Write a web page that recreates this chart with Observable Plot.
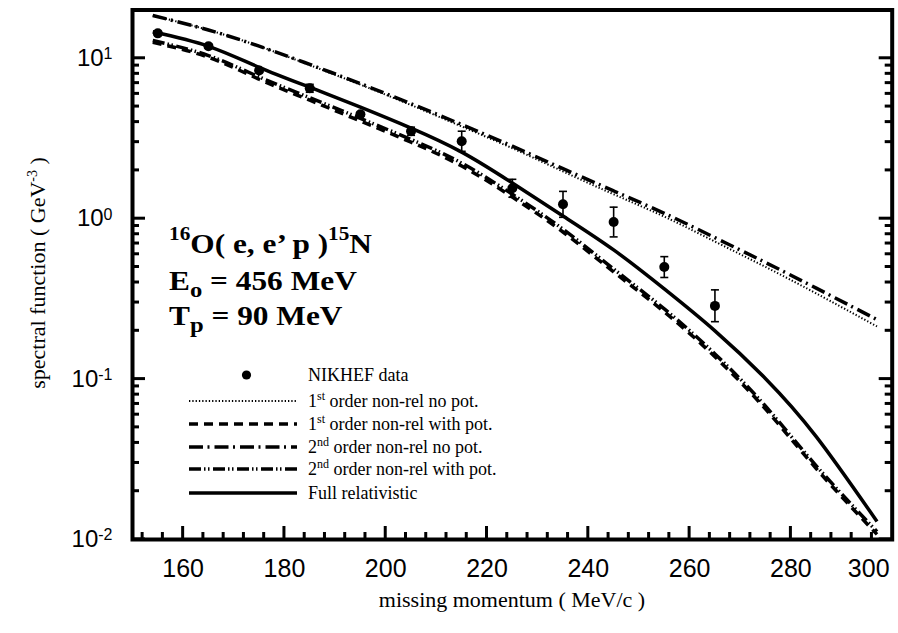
<!DOCTYPE html>
<html><head><meta charset="utf-8">
<script src="https://cdn.jsdelivr.net/npm/d3@7"></script>
<script src="https://cdn.jsdelivr.net/npm/@observablehq/plot@0.6"></script>
<style>
body{margin:0;background:#fff;}
#wrap{position:relative;width:898px;height:633px;overflow:hidden;background:#fff;}
#wrap svg{position:absolute;left:0;top:0;}
#ov text{font-family:"Liberation Serif","Times New Roman",serif;}
</style></head><body><div id="wrap"></div>
<script>
// ---- data ----
const momentum = [154,165,175,185,195,205,215,225,235,245,255,265,275,285,297];
const firstNoPot   = [18.5,15.0,11.9,9.07,6.85,5.11,3.76,2.75,1.97,1.42,1.03,0.72,0.50,0.342,0.213];
const firstWithPot = [12.58,10.14,7.40,5.48,4.06,3.00,2.13,1.365,0.826,0.466,0.2626,0.1378,0.0650,0.0277,0.01076];
const secondNoPot  = [18.5,15.0,11.9,9.16,6.95,5.21,3.86,2.83,2.05,1.49,1.08,0.762,0.533,0.369,0.235];
const secondWithPot= [12.9,10.4,7.65,5.68,4.22,3.12,2.22,1.42,0.86,0.486,0.274,0.1435,0.0677,0.0288,0.0112];
const fullRel      = [14.62,11.88,8.79,6.60,4.96,3.67,2.60,1.668,1.039,0.639,0.365,0.200,0.1006,0.0438,0.01296];

const dataMomentum = [155,165,175,185,195,205,215,225,235,245,255,265];
const dataValue    = [14.3,11.9,8.4,6.5,4.48,3.51,3.04,1.55,1.23,0.954,0.50,0.286];
const dataLow      = [13.9,11.55,8.15,6.14,4.35,3.31,2.63,1.36,1.02,0.77,0.43,0.228];
const dataHigh     = [14.7,12.25,8.65,6.88,4.61,3.72,3.51,1.76,1.48,1.18,0.58,0.36];

const xLabelTicks = [160,180,200,220,240,260,280];
const xEdgeLabel  = [300];
const xMajorTicks = [160,180,200,220,240,260,280];
const xMinorTicks = [152,156,164,168,172,176,184,188,192,196,204,208,212,216,224,228,232,236,244,248,252,256,264,268,272,276,284,288,292,296];
const yMajorTicks = [0.01,0.1,1,10];
const yMinorTicks = [0.02,0.03,0.04,0.05,0.06,0.07,0.08,0.09,0.2,0.3,0.4,0.5,0.6,0.7,0.8,0.9,2,3,4,5,6,7,8,9];

const legendNames = ["NIKHEF data","order non-rel no pot.","order non-rel with pot.","order non-rel no pot.","order non-rel with pot.","Full relativistic"];
const legendOrd = ["","1","1","2","2",""];
const legendSup = ["","st","st","nd","nd",""];

// ---- styles ----
const sty = {
  dotted:    {strokeWidth:2,   strokeDasharray:"1.3,2"},
  dashed:    {strokeWidth:3.5, strokeDasharray:"9,6"},
  dashdot:   {strokeWidth:3.5, strokeDasharray:"14,4.5,2,5"},
  dashdotdot:{strokeWidth:3.5, strokeDasharray:"12,3,1.5,2.5,1.5,3.5"},
  solid:     {strokeWidth:3.5, strokeDasharray:null}
};
const series = vals => momentum.map((m,i)=>({m, v: vals[i]}));
const points = dataMomentum.map((m,i)=>({m, v:dataValue[i], lo:dataLow[i], hi:dataHigh[i]}));
const capSymbol = {draw(ctx,size){const w=Math.sqrt(size/Math.PI); ctx.moveTo(-w,0); ctx.lineTo(w,0);}};

const lineOpts = (s)=>({x:"m", y:"v", stroke:"black", curve:"natural", strokeWidth:s.strokeWidth, strokeDasharray:s.strokeDasharray, strokeLinecap:"butt"});

const W=898, H=633;
const mL=132, mR=6.3, mT=9.5, mB=94;

const chart = Plot.plot({
  width: W, height: H,
  marginLeft: mL, marginRight: mR, marginTop: mT, marginBottom: mB,
  style: {fontFamily: "'Liberation Sans', Arial, sans-serif", color:"black", background:"white"},
  x: {domain:[150,300], label:null},
  y: {type:"log", domain:[0.01,20], label:null},
  marks: [
    Plot.axisX({anchor:"bottom", ticks:xLabelTicks, tickSize:0, tickPadding:20, fontSize:25}),
    Plot.axisX({anchor:"bottom", ticks:xEdgeLabel, tickSize:0, tickPadding:20, fontSize:25, dx:-23.5}),
    Plot.axisY({anchor:"left", ticks:yMajorTicks, tickSize:0, tickPadding:20, fontSize:24,
                tickFormat:d=>"10^"+Math.round(Math.log10(d))}),
    Plot.line(series(firstNoPot), lineOpts(sty.dotted)),
    Plot.line(series(secondNoPot), lineOpts(sty.dashdot)),
    Plot.line(series(firstWithPot), lineOpts(sty.dashed)),
    Plot.line(series(secondWithPot), lineOpts(sty.dashdotdot)),
    Plot.line(series(fullRel), lineOpts(sty.solid)),
    Plot.ruleX(points, {x:"m", y1:"lo", y2:"hi", stroke:"black", strokeWidth:1.6}),
    Plot.dot(points, {x:"m", y:"lo", symbol:capSymbol, r:4, stroke:"black", strokeWidth:1.6, fill:"none"}),
    Plot.dot(points, {x:"m", y:"hi", symbol:capSymbol, r:4, stroke:"black", strokeWidth:1.6, fill:"none"}),
    Plot.dot(points, {x:"m", y:"v", r:5, fill:"black", stroke:"none"}),
    Plot.frame({stroke:"black", strokeWidth:4})
  ]
});
document.getElementById("wrap").appendChild(chart);

// superscript exponents on the y tick labels
d3.select(chart).selectAll('g[aria-label="y-axis tick label"] text').each(function(){
  const parts = this.textContent.split("^");
  if (parts.length !== 2) return;
  this.textContent = parts[0];
  d3.select(this).append("tspan").attr("dy","-0.42em").attr("font-size","16px").text(parts[1]);
});

// ---- overlay: inward ticks (through Plot's own scales), titles, annotation, legend ----
const ov = d3.select("#wrap").append("svg").attr("id","ov").attr("width",W).attr("height",H)
  .style("pointer-events","none");

const sx = chart.scale("x"), sy = chart.scale("y");
const X = v => sx.apply(v), Y = v => sy.apply(v);
const left = mL, right = W - mR, bottom = H - mB;
const tk = ov.append("g").attr("stroke","black").attr("stroke-width",3);
xMajorTicks.forEach(v=>tk.append("line").attr("x1",X(v)).attr("x2",X(v)).attr("y1",bottom).attr("y2",bottom-13));
xMinorTicks.forEach(v=>tk.append("line").attr("x1",X(v)).attr("x2",X(v)).attr("y1",bottom).attr("y2",bottom-7));
yMajorTicks.forEach(v=>{
  tk.append("line").attr("y1",Y(v)).attr("y2",Y(v)).attr("x1",left).attr("x2",left+13);
  tk.append("line").attr("y1",Y(v)).attr("y2",Y(v)).attr("x1",right).attr("x2",right-13);
});
yMinorTicks.forEach(v=>{
  tk.append("line").attr("y1",Y(v)).attr("y2",Y(v)).attr("x1",left).attr("x2",left+7);
  tk.append("line").attr("y1",Y(v)).attr("y2",Y(v)).attr("x1",right).attr("x2",right-7);
});

// axis titles
ov.append("text").attr("x",512).attr("y",607).attr("text-anchor","middle").attr("font-size",22)
  .text("missing momentum ( MeV/c )");
const yt = ov.append("text").attr("transform","translate(45,273) rotate(-90)").attr("text-anchor","middle").attr("font-size",22);
yt.append("tspan").text("spectral function  ( GeV");
yt.append("tspan").attr("dy",-8).attr("font-size",14).text("-3");
yt.append("tspan").attr("dy",8).text(" )");

// annotation
const ann = ov.append("g").attr("font-weight","bold").attr("font-size",28);
const a1 = ann.append("text").attr("transform","translate(169,253) scale(1.12,1)");
a1.append("tspan").attr("font-size",19).attr("dy",-13).text("16");
a1.append("tspan").attr("dy",13).text("O( e, e’ p )");
a1.append("tspan").attr("font-size",19).attr("dy",-13).text("15");
a1.append("tspan").attr("dy",13).text("N");
const a2 = ann.append("text").attr("transform","translate(169,290) scale(1.12,1)");
a2.append("tspan").text("E");
a2.append("tspan").attr("font-size",22).attr("dy",7).text("o");
a2.append("tspan").attr("dy",-7).text(" = 456 MeV");
const a3 = ann.append("text").attr("transform","translate(169,325) scale(1.12,1)");
a3.append("tspan").text("T");
a3.append("tspan").attr("font-size",22).attr("dy",7).text("p");
a3.append("tspan").attr("dy",-7).text(" = 90 MeV");

// legend
const legBase = [381,407,430,453,475,499];
const legStyles = [null, sty.dotted, sty.dashed, sty.dashdot, sty.dashdotdot, sty.solid];
legBase.forEach((b,i)=>{
  const st = legStyles[i];
  if (st === null) {
    ov.append("circle").attr("cx",246.5).attr("cy",b-6).attr("r",4.6).attr("fill","black");
  } else {
    ov.append("line").attr("x1",189).attr("x2",297).attr("y1",b-6).attr("y2",b-6)
      .attr("stroke","black").attr("stroke-width",st.strokeWidth)
      .attr("stroke-dasharray",st.strokeDasharray);
  }
  const t = ov.append("text").attr("x",308).attr("y",b).attr("font-size",18);
  if (legendOrd[i]) {
    t.append("tspan").text(legendOrd[i]);
    t.append("tspan").attr("dy",-7).attr("font-size",12).text(legendSup[i]);
    t.append("tspan").attr("dy",7).text(" " + legendNames[i]);
  } else {
    t.text(legendNames[i]);
  }
});
</script></body></html>
